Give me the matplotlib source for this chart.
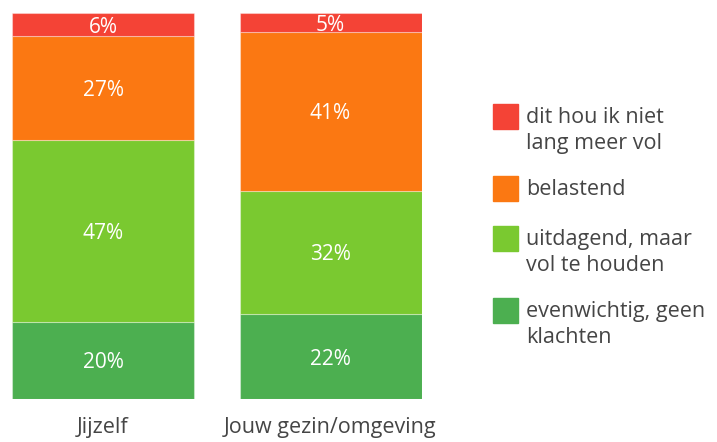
import matplotlib.pyplot as plt
from matplotlib.patches import Rectangle

plt.rcParams['font.family'] = ['Open Sans', 'DejaVu Sans']

groups = ["Jijzelf", "Jouw gezin/omgeving"]
series = ["evenwichtig, geen\nklachten", "uitdagend, maar\nvol te houden",
          "belastend", "dit hou ik niet\nlang meer vol"]
values = [[20, 22], [47, 32], [27, 41], [6, 5]]
colors = ["#4caf50", "#7ac930", "#fb7812", "#f44336"]

W, H = 717, 442
fig = plt.figure(figsize=(W / 100, H / 100), dpi=100)
ax = fig.add_axes([12 / W, 1 - 399 / H, (421.5 - 12) / W, (399 - 13) / H])

bottom = [0, 0]
for vals, col in zip(values, colors):
    bars = ax.bar(range(len(groups)), vals, 0.8, bottom=bottom, color=col,
                  edgecolor=(1, 1, 1, 0.35), linewidth=0.8)
    for b, v in zip(bars, vals):
        ax.text(b.get_x() + b.get_width() / 2, b.get_y() + v / 2, f"{v}%",
                ha='center', va='center_baseline', color='white', fontsize=15)
    bottom = [a + b for a, b in zip(bottom, vals)]

ax.set_xlim(-0.4, 1.4)
ax.set_ylim(0, 100)
ax.set_xticks(range(len(groups)))
ax.set_xticklabels(groups, fontsize=15.5, color='#454545')
ax.tick_params(axis='x', length=0, pad=13)
ax.set_yticks([])
for s in ax.spines.values():
    s.set_visible(False)

# legend, top entry first
sq_tops = [104, 176, 226, 298]
for top, lab, col in zip(sq_tops, series[::-1], colors[::-1]):
    fig.patches.append(Rectangle((493 / W, 1 - (top + 25) / H), 25 / W, 25 / H,
                                 transform=fig.transFigure, color=col))
    fig.text(526 / W, 1 - (top + 3) / H, lab, ha='left', va='top',
             fontsize=15.5, color='#454545', linespacing=1.3)

fig.savefig("out.png", dpi=100)
